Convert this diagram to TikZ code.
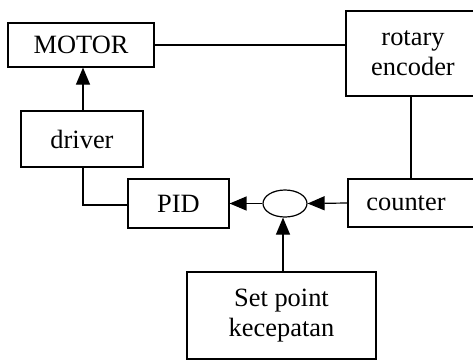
\documentclass[tikz,border=0pt]{standalone}
\usepackage{fontspec}
\setmainfont{Liberation Serif}
\usetikzlibrary{arrows.meta,shapes.geometric}
\begin{document}
\begin{tikzpicture}[x=0.5pt,y=-0.5pt,
  blk/.style={draw,line width=0.6pt,rectangle,inner sep=0pt,align=center,
    font=\fontsize{13.2}{15}\selectfont},
  wire/.style={line width=0.6pt},
  arr/.style={line width=0.6pt,-{Triangle[length=8.5pt,width=7pt]}}]
\useasboundingbox (0,0) rectangle (473,361);
\clip (0,0) rectangle (473,361);
\node[blk,minimum width=73pt,minimum height=22pt] (motor) at (81,45) {MOTOR};
\node[blk,minimum width=61pt,minimum height=28pt] (driver) at (82,139) {driver};
\node[blk,minimum width=67pt,minimum height=42.5pt,text width=59pt] (enc) at (413,53.5) {rotary\\encoder};
\node[blk,minimum width=66pt,minimum height=24pt] (counter) at (414,203) {\hspace*{-8pt}counter};
\node[blk,minimum width=50.5pt,minimum height=24.5pt] (pid) at (178.5,203.5) {PID};
\node[draw,line width=0.6pt,ellipse,inner sep=0pt,minimum width=22pt,minimum height=13.5pt] (sum) at (285,203.5) {};
\node[blk,minimum width=94.5pt,minimum height=43.5pt] (sp) at (281.5,315.5) {Set point\\kecepatan};
\coordinate (dcorner) at (83,205);
\draw[arr] (driver.north -| 83,0) -- (motor.south -| 83,0);
\draw[wire] (motor.east) -- (motor.east -| enc.west);
\draw[wire] (enc.south -| 411,0) -- (counter.north -| 411,0);
\draw[arr] (counter.west |- 0,203) -- (sum.east);
\draw[arr] (sum.west) -- (pid.east |- sum.west);
\draw[arr] (sp.north -| 283,0) -- (sum.south -| 283,0);
\draw[wire] (driver.south -| 83,0) -- (dcorner) -- (pid.west |- dcorner);
\end{tikzpicture}
\end{document}
